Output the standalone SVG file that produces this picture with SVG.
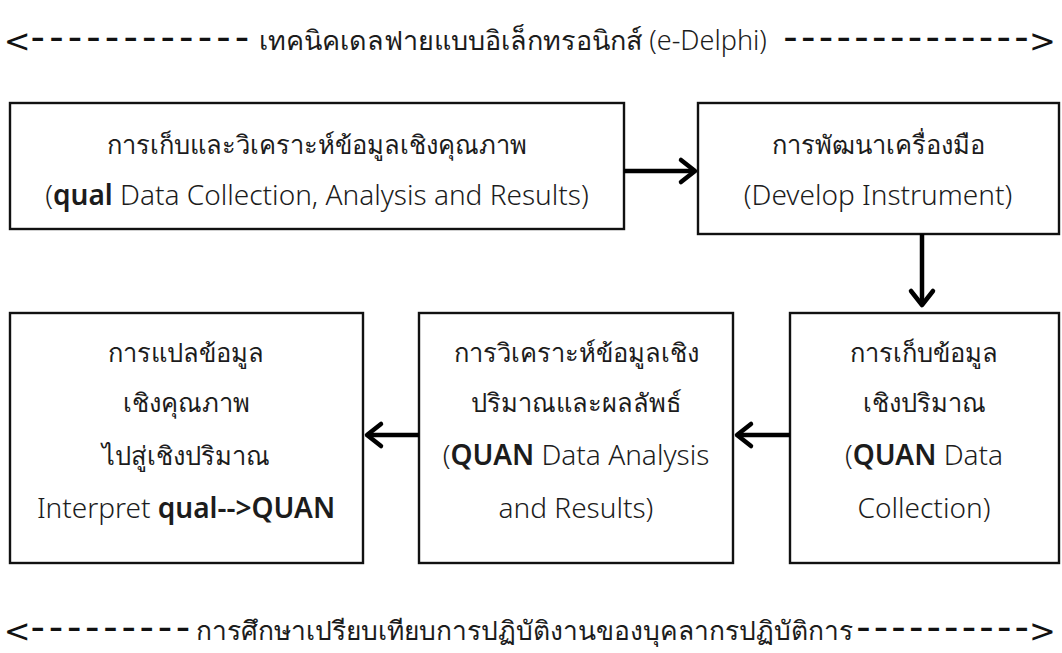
<svg xmlns="http://www.w3.org/2000/svg" width="1062" height="653" viewBox="0 0 1062 653">
  <defs>
    <style>
      .box { fill: #ffffff; stroke: #111111; stroke-width: 2.4; }
      .t { font-family: "Noto Sans", "Open Sans", sans-serif; font-size: 28px; font-weight: 300; fill: #1c1c1c; text-anchor: middle; }
      .th { font-size: 25.5px; font-weight: 400; }
      .b { font-weight: 600; }
      .lbl { font-family: "Noto Sans", "Open Sans", sans-serif; font-size: 27px; font-weight: 400; fill: #1c1c1c; }
      .lat { font-weight: 300; }
      .tip { font-family: "DejaVu Sans", sans-serif; font-size: 32px; fill: #111111; }
      .tipl { text-anchor: end; }
      .dash { font-family: "DejaVu Sans", sans-serif; font-size: 40px; fill: #111111; }
      .edge { fill: none; stroke: #000000; stroke-width: 4.5; }
      .head { fill: none; stroke: #000000; stroke-width: 4.5; stroke-linecap: round; stroke-linejoin: round; }
    </style>
  </defs>
  <rect width="1062" height="653" fill="#ffffff"/>

  <!-- span labels drawn as arrow text with stretched dashes -->
  <g id="label-top">
    <text class="tip tipl" x="30.5" y="51.5">&lt;</text>
    <text class="dash" x="30.6" y="51" textLength="218.6" lengthAdjust="spacing">------------</text>
    <text class="lbl" x="513" y="50" text-anchor="middle">เทคนิคเดลฟายแบบอิเล็กทรอนิกส์ <tspan class="lat">(e-Delphi)</tspan></text>
    <text class="dash" x="783.2" y="51" textLength="245.6" lengthAdjust="spacing">--------------</text>
    <text class="tip" x="1029" y="51.5">&gt;</text>
  </g>
  <g id="label-bottom">
    <text class="tip tipl" x="30.5" y="641.5">&lt;</text>
    <text class="dash" x="30.6" y="641" textLength="159.7" lengthAdjust="spacing">---------</text>
    <text class="lbl" x="524" y="640" text-anchor="middle" style="font-size:26.4px">การศึกษาเปรียบเทียบการปฏิบัติงานของบุคลากรปฏิบัติการ</text>
    <text class="dash" x="856.2" y="641" textLength="172.7" lengthAdjust="spacing">----------</text>
    <text class="tip" x="1029" y="641.5">&gt;</text>
  </g>

  <!-- nodes -->
  <g id="qual-collect">
    <rect class="box" x="10" y="103" width="614" height="126"/>
    <text class="t th" x="317" y="154">การเก็บและวิเคราะห์ข้อมูลเชิงคุณภาพ</text>
    <text class="t" x="317" y="205">(<tspan class="b">qual</tspan> Data Collection, Analysis and Results)</text>
  </g>
  <g id="develop-instrument">
    <rect class="box" x="698" y="103" width="361" height="131"/>
    <text class="t th" x="878" y="154">การพัฒนาเครื่องมือ</text>
    <text class="t" x="878" y="205">(Develop Instrument)</text>
  </g>
  <g id="quan-collect">
    <rect class="box" x="790" y="313" width="269" height="250"/>
    <text class="t th" x="924" y="362">การเก็บข้อมูล</text>
    <text class="t th" x="924" y="412">เชิงปริมาณ</text>
    <text class="t" x="924" y="465">(<tspan class="b">QUAN</tspan> Data</text>
    <text class="t" x="924" y="518">Collection)</text>
  </g>
  <g id="quan-analysis">
    <rect class="box" x="419" y="313" width="314" height="250"/>
    <text class="t th" x="576" y="362">การวิเคราะห์ข้อมูลเชิง</text>
    <text class="t th" x="576" y="412">ปริมาณและผลลัพธ์</text>
    <text class="t" x="576" y="465">(<tspan class="b">QUAN</tspan> Data Analysis</text>
    <text class="t" x="576" y="518">and Results)</text>
  </g>
  <g id="interpret">
    <rect class="box" x="10" y="313" width="353" height="250"/>
    <text class="t th" x="186" y="362">การแปลข้อมูล</text>
    <text class="t th" x="186" y="412">เชิงคุณภาพ</text>
    <text class="t th" x="186" y="465">ไปสู่เชิงปริมาณ</text>
    <text class="t" x="186" y="518">Interpret <tspan class="b">qual--&gt;QUAN</tspan></text>
  </g>

  <!-- connectors -->
  <g id="connectors">
    <line class="edge" x1="624" y1="171" x2="694" y2="171"/>
    <polyline class="head" points="681,160 695,171 681,182"/>
    <line class="edge" x1="922" y1="234" x2="922" y2="304"/>
    <polyline class="head" points="911,291 922,305 933,291"/>
    <line class="edge" x1="790" y1="435" x2="739" y2="435"/>
    <polyline class="head" points="751,424 737,435 751,446"/>
    <line class="edge" x1="419" y1="435" x2="369" y2="435"/>
    <polyline class="head" points="381,424 367,435 381,446"/>
  </g>
</svg>
